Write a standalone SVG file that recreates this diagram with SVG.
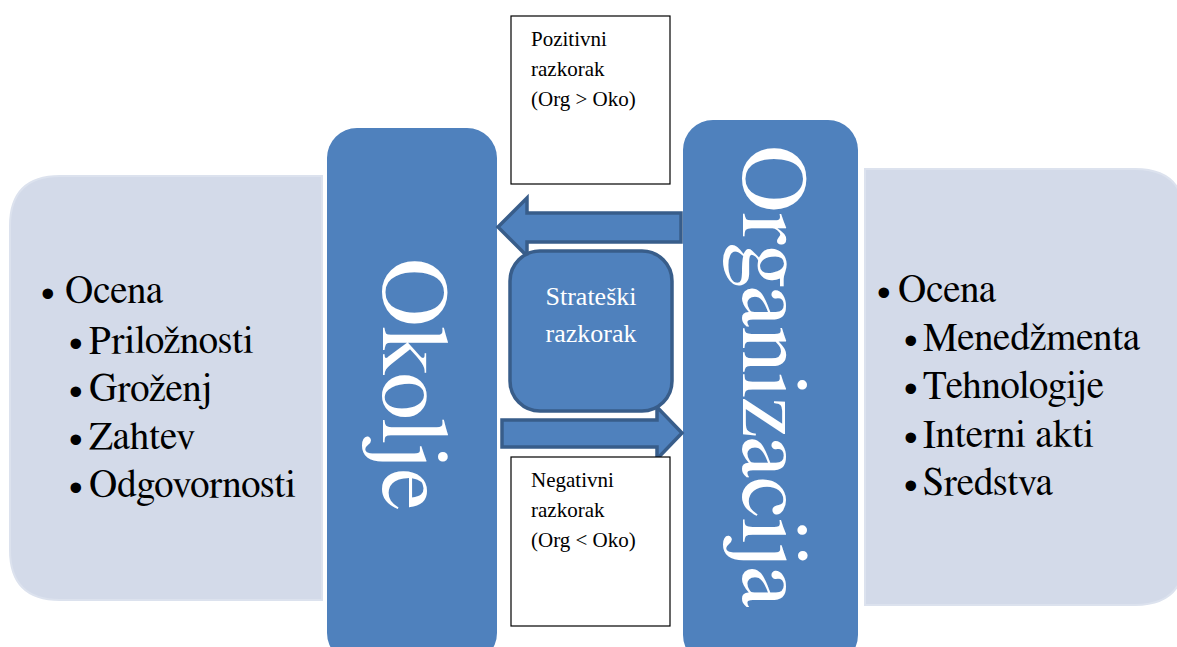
<svg xmlns="http://www.w3.org/2000/svg" width="1177" height="647" viewBox="0 0 1177 647">
  <defs>
    <style>
      .panel { fill: #D3DAE9; stroke: #DCE2EE; stroke-width: 2; }
      .bar { fill: #4F81BD; }
      .shape { fill: #4F81BD; stroke: #385D8A; stroke-width: 3.5; stroke-linejoin: miter; }
      .note { fill: #FFFFFF; stroke: #000000; stroke-width: 1.2; }
    </style>
  </defs>
  <rect width="1177" height="647" fill="#FFFFFF"/>

  <!-- environment assessment panel -->
  <g id="okolje-panel">
    <path class="panel" d="M322,176 L60,176 Q10,176 10,226 L10,550 Q10,600 60,600 L322,600 Z"/>
    <text x="40" y="303" font-size="39" font-family="FreeSerif">•</text>
    <text x="65" y="303" font-size="39" font-family="FreeSerif">Ocena</text>
    <text x="68" y="353" font-size="39" font-family="FreeSerif">•</text>
    <text x="89" y="353" font-size="39" font-family="FreeSerif">Priložnosti</text>
    <text x="68" y="401" font-size="39" font-family="FreeSerif">•</text>
    <text x="89" y="401" font-size="39" font-family="FreeSerif">Groženj</text>
    <text x="68" y="449" font-size="39" font-family="FreeSerif">•</text>
    <text x="89" y="449" font-size="39" font-family="FreeSerif">Zahtev</text>
    <text x="68" y="497" font-size="39" font-family="FreeSerif">•</text>
    <text x="89" y="497" font-size="39" font-family="FreeSerif">Odgovornosti</text>
  </g>

  <!-- organisation assessment panel -->
  <g id="organizacija-panel">
    <path class="panel" d="M865,169 L1135,169 Q1185,169 1185,219 L1185,555 Q1185,605 1135,605 L865,605 Z"/>
    <text x="876" y="302" font-size="39" font-family="FreeSerif">•</text>
    <text x="898" y="302" font-size="39" font-family="FreeSerif">Ocena</text>
    <text x="903" y="350" font-size="39" font-family="FreeSerif">•</text>
    <text x="923" y="350" font-size="39" font-family="FreeSerif">Menedžmenta</text>
    <text x="903" y="398" font-size="39" font-family="FreeSerif">•</text>
    <text x="923" y="398" font-size="39" font-family="FreeSerif">Tehnologije</text>
    <text x="903" y="447" font-size="39" font-family="FreeSerif">•</text>
    <text x="923" y="447" font-size="39" font-family="FreeSerif">Interni akti</text>
    <text x="903" y="495" font-size="39" font-family="FreeSerif">•</text>
    <text x="923" y="495" font-size="39" font-family="FreeSerif">Sredstva</text>
  </g>

  <!-- vertical title bars -->
  <g id="okolje">
    <rect class="bar" x="327" y="128" width="170" height="535" rx="30" ry="30"/>
    <text font-size="95" font-family="FreeSerif" fill="#FFFFFF" transform="translate(383,258) rotate(90)">Okolje</text>
  </g>
  <g id="organizacija">
    <rect class="bar" x="683" y="120" width="175" height="545" rx="30" ry="30"/>
    <text font-size="93.5" font-family="FreeSerif" fill="#FFFFFF" transform="translate(743,145) rotate(90)">Organizacija</text>
  </g>

  <!-- block arrows between the bars -->
  <g id="connectors">
    <path class="shape" d="M498,227 L527,198 L527,213 L681,213 L681,242 L527,242 L527,256 Z"/>
    <path class="shape" d="M682,433 L657,407 L657,420 L502,420 L502,447 L657,447 L657,459 Z"/>
  </g>

  <!-- central gap box -->
  <g id="strateski-razkorak">
    <rect class="shape" x="510" y="251" width="162" height="160" rx="30" ry="30"/>
    <text x="591" y="305" font-size="26" font-family="Times New Roman" fill="#FFFFFF" text-anchor="middle">Strateški</text>
    <text x="591" y="342" font-size="26" font-family="Times New Roman" fill="#FFFFFF" text-anchor="middle">razkorak</text>
  </g>

  <!-- annotation boxes -->
  <g id="pozitivni">
    <rect class="note" x="511" y="16" width="159" height="168"/>
    <text x="531" y="46" font-size="21" font-family="Times New Roman">Pozitivni</text>
    <text x="531" y="76" font-size="21" font-family="Times New Roman">razkorak</text>
    <text x="531" y="106" font-size="21" font-family="Times New Roman">(Org &gt; Oko)</text>
  </g>
  <g id="negativni">
    <rect class="note" x="511" y="457" width="159" height="169"/>
    <text x="531" y="487" font-size="21" font-family="Times New Roman">Negativni</text>
    <text x="531" y="517" font-size="21" font-family="Times New Roman">razkorak</text>
    <text x="531" y="547" font-size="21" font-family="Times New Roman">(Org &lt; Oko)</text>
  </g>
</svg>
